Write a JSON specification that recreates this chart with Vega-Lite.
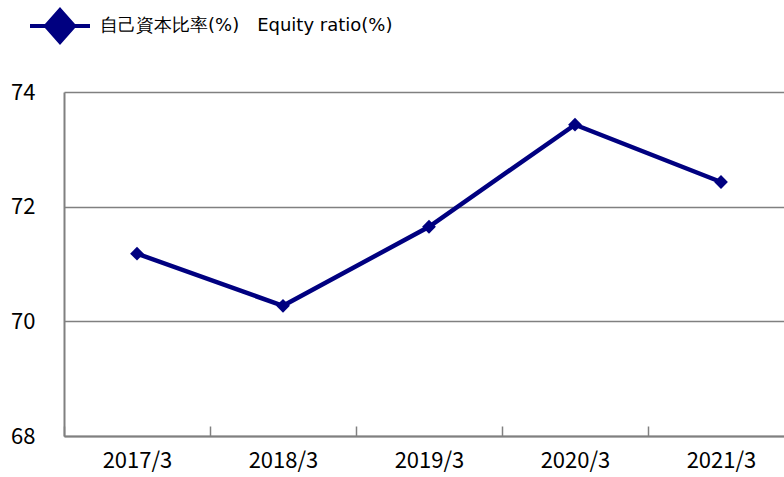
{
  "$schema": "https://vega.github.io/schema/vega-lite/v6.json",
  "width": 730,
  "height": 344,
  "padding": {"left": 64, "top": 92, "right": 0, "bottom": 41},
  "autosize": {"type": "none"},
  "background": "white",
  "config": {
    "view": {"stroke": null},
    "font": "Noto Sans CJK JP"
  },
  "data": {
    "values": [
      {"year": "2017/3", "ratio": 71.18, "series": "自己資本比率(%)　Equity ratio(%)"},
      {"year": "2018/3", "ratio": 70.27, "series": "自己資本比率(%)　Equity ratio(%)"},
      {"year": "2019/3", "ratio": 71.65, "series": "自己資本比率(%)　Equity ratio(%)"},
      {"year": "2020/3", "ratio": 73.43, "series": "自己資本比率(%)　Equity ratio(%)"},
      {"year": "2021/3", "ratio": 72.43, "series": "自己資本比率(%)　Equity ratio(%)"}
    ]
  },
  "encoding": {
    "x": {
      "field": "year", "type": "ordinal", "title": null,
      "scale": {"paddingInner": 0, "paddingOuter": 0},
      "axis": {
        "labelAngle": 0, "labelFontSize": 22, "labelColor": "#000000", "labelPadding": 24,
        "domainColor": "#808080", "domainWidth": 2,
        "ticks": true, "tickBand": "extent", "tickColor": "#808080", "tickSize": -10, "tickWidth": 1.5,
        "grid": false, "labelFont": "Noto Sans CJK JP"
      }
    },
    "y": {
      "field": "ratio", "type": "quantitative", "title": null,
      "scale": {"domain": [68, 74], "nice": false, "zero": false},
      "axis": {
        "values": [68, 70, 72, 74], "format": "d",
        "labelFontSize": 22, "labelColor": "#000000", "labelPadding": 29,
        "labelFont": "Noto Sans CJK JP",
        "domainColor": "#808080", "domainWidth": 2, "ticks": false,
        "grid": true, "gridColor": "#808080", "gridWidth": 1.5
      }
    },
    "color": {
      "field": "series", "type": "nominal",
      "scale": {"range": ["#000080"]},
      "legend": {
        "title": null, "orient": "none", "legendX": -36, "legendY": -98,
        "symbolType": "M-1,0H1M0,-0.53L0.47,0L0,0.53L-0.47,0Z",
        "symbolSize": 3600, "symbolStrokeWidth": 4, "symbolFillColor": "#000080",
        "symbolStrokeColor": "#000080", "labelLimit": 0,
        "labelFontSize": 18, "labelFont": "DejaVu Sans", "labelColor": "#000000", "labelOffset": 8
      }
    }
  },
  "layer": [
    {"mark": {"type": "line", "strokeWidth": 4.5}},
    {"mark": {"type": "point", "shape": "diamond", "filled": true, "size": 190, "opacity": 1}}
  ]
}
